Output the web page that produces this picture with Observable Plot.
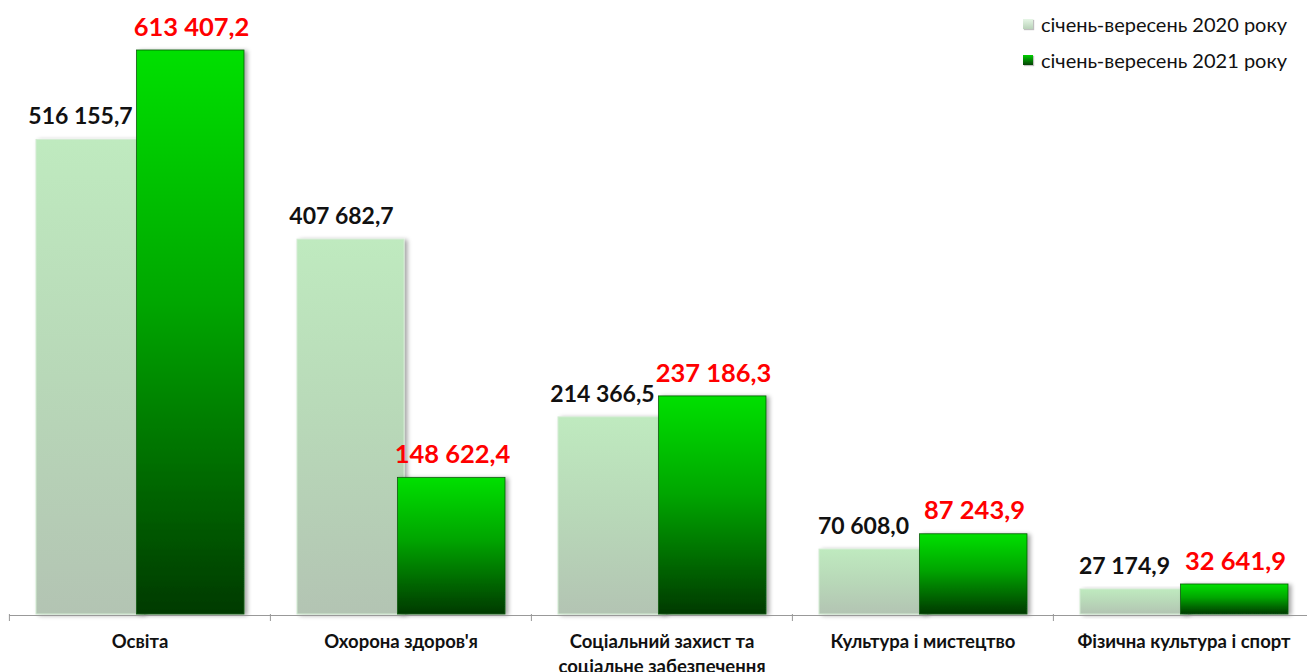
<!DOCTYPE html>
<html>
<head>
<meta charset="utf-8">
<script src="https://cdn.jsdelivr.net/npm/d3@7"></script>
<script src="https://cdn.jsdelivr.net/npm/@observablehq/plot@0.6"></script>
<style>
  html, body { margin: 0; padding: 0; background: #fff; overflow: hidden; }
  #wrap { position: relative; width: 1307px; height: 672px; }
  #legend { position: absolute; left: 1023px; top: 6px; font-family: Lato, "Open Sans", sans-serif; font-size: 20px; color: #111; }
  #legend .row { display: flex; align-items: center; height: 36px; }
  #legend .sw { width: 10px; height: 10px; margin-right: 8px; box-shadow: 1px 1px 1px rgba(0,0,0,0.25); }
</style>
</head>
<body>
<div id="wrap">
  <div id="chart"></div>
  <div id="legend"></div>
</div>
<script>
const categories = ["Освіта", "Охорона здоров'я", "Соціальний захист та\nсоціальне забезпечення", "Культура і мистецтво", "Фізична культура і спорт"];
const seriesNames = ["січень-вересень 2020 року", "січень-вересень 2021 року"];
const values2020 = [516155.7, 407682.7, 214366.5, 70608.0, 27174.9];
const values2021 = [613407.2, 148622.4, 237186.3, 87243.9, 32641.9];

const rows2020 = categories.map((c, i) => ({category: c, series: seriesNames[0], value: values2020[i]}));
const rows2021 = categories.map((c, i) => ({category: c, series: seriesNames[1], value: values2021[i]}));

const locale = d3.formatLocale({decimal: ",", thousands: " ", grouping: [3], currency: ["", ""]});
const fmt = locale.format(",.1f");

const W = 1307, H = 672;
const fxRange = [8, 1314];
const bandW = (fxRange[1] - fxRange[0]) / categories.length;
const FONT = "Lato, 'Open Sans', sans-serif";

const chart = Plot.plot({
  width: W,
  height: H,
  marginTop: 50,
  marginBottom: 58,
  marginLeft: 8,
  marginRight: 0,
  style: {fontFamily: FONT, background: "white", overflow: "visible"},
  fx: {domain: categories, range: fxRange, padding: 0, axis: null},
  x: {domain: seriesNames, paddingInner: 0, paddingOuter: 0.25, axis: null},
  y: {domain: [0, d3.max(values2021)], axis: null},
  marks: [
    Plot.barY(rows2020, {fx: "category", x: "series", y: "value", insetLeft: 0, insetRight: -3, fill: "url(#g2020)", stroke: "#d2ecd2", strokeWidth: 1}),
    Plot.barY(rows2021, {fx: "category", x: "series", y: "value", insetLeft: -3.5, insetRight: 0, fill: "url(#g2021)", stroke: "#0b5a0b", strokeWidth: 0.8}),
    Plot.ruleY([0], {stroke: "#999", strokeWidth: 1.2, dy: 1}),
    Plot.axisFx({anchor: "bottom", tickSize: 7, text: null, dx: -bandW / 2, stroke: "#999", label: null}),
    Plot.text(categories, {fx: d => d, text: d => d, frameAnchor: "bottom", lineAnchor: "top", dy: 16, lineHeight: 1.35, fontSize: 18.5, fontWeight: 700, fill: "#111"}),
    Plot.text(rows2020, {fx: "category", x: "series", y: "value", text: d => fmt(d.value), dy: -23, dx: -8, lineAnchor: "middle", fontSize: 23, fontWeight: 700, fill: "#111"}),
    Plot.text(rows2021, {fx: "category", x: "series", y: "value", text: d => fmt(d.value), dy: -23, dx: -1, lineAnchor: "middle", fontSize: 25.5, fontWeight: 700, fill: "#ff0000"})
  ]
});

// gradients + shadow
const svg = d3.select(chart);
const defs = svg.insert("defs", ":first-child");
const g1 = defs.append("linearGradient").attr("id", "g2020").attr("x1", 0).attr("y1", 0).attr("x2", 0).attr("y2", 1);
g1.append("stop").attr("offset", "0%").attr("stop-color", "#bfeabf");
g1.append("stop").attr("offset", "50%").attr("stop-color", "#b8d8b8");
g1.append("stop").attr("offset", "100%").attr("stop-color", "#b3c4b3");
const g2 = defs.append("linearGradient").attr("id", "g2021").attr("x1", 0).attr("y1", 0).attr("x2", 0).attr("y2", 1);
g2.append("stop").attr("offset", "0%").attr("stop-color", "#00e000");
g2.append("stop").attr("offset", "45%").attr("stop-color", "#00a600");
g2.append("stop").attr("offset", "100%").attr("stop-color", "#053a06");
const f = defs.append("filter").attr("id", "shadow").attr("x", "-10%").attr("y", "-10%").attr("width", "130%").attr("height", "130%");
f.append("feDropShadow").attr("dx", 3).attr("dy", 1).attr("stdDeviation", 2).attr("flood-color", "#000").attr("flood-opacity", 0.35);
svg.selectAll("g[aria-label='bar'] rect").attr("filter", "url(#shadow)");

document.getElementById("chart").appendChild(chart);

// legend
const legend = d3.select("#legend");
const swatches = ["linear-gradient(#e6f6e6, #b9d2b9)", "linear-gradient(#00d000, #054006)"];
seriesNames.forEach((s, i) => {
  const row = legend.append("div").attr("class", "row");
  row.append("div").attr("class", "sw").style("background", swatches[i]);
  row.append("span").text(s);
});
</script>
</body>
</html>
